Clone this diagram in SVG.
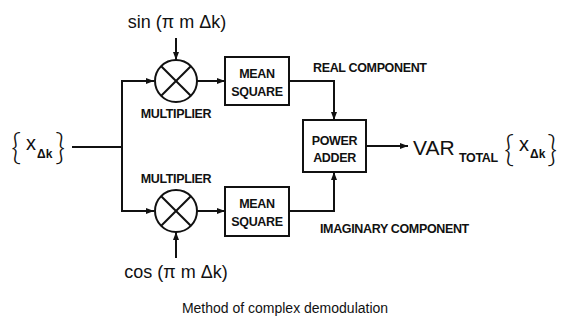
<svg xmlns="http://www.w3.org/2000/svg" width="566" height="323" viewBox="0 0 566 323">
<defs>
<marker id="ah" markerUnits="userSpaceOnUse" markerWidth="8" markerHeight="6" refX="8" refY="3" orient="auto">
<path d="M0,0 L8,3 L0,6 z" fill="#111"/>
</marker>
<style>
.ln{stroke:#111;stroke-width:2;fill:none}
.bx{stroke:#111;stroke-width:2;fill:#fff}
.lb{font-family:"Liberation Sans",Arial,sans-serif;font-weight:bold;font-size:12.5px;letter-spacing:-0.35px;fill:#111}
.mt{font-family:"Liberation Sans",Arial,sans-serif;fill:#111}
.br{font-family:Lato,"Liberation Sans",sans-serif;font-weight:300;font-size:35px;fill:#111}
.sb{font-family:"Liberation Sans",Arial,sans-serif;font-weight:bold;font-size:12px;fill:#111}
</style>
</defs>
<rect width="566" height="323" fill="#fff"/>
<g id="connectors">
<line class="ln" x1="72" y1="147" x2="122" y2="147"/>
<line class="ln" x1="122" y1="80" x2="122" y2="212"/>
<line class="ln" x1="121" y1="81" x2="154" y2="81" marker-end="url(#ah)"/>
<line class="ln" x1="121" y1="211" x2="154" y2="211" marker-end="url(#ah)"/>
<line class="ln" x1="176" y1="38" x2="176" y2="60" marker-end="url(#ah)"/>
<line class="ln" x1="176" y1="258" x2="176" y2="232" marker-end="url(#ah)"/>
<line class="ln" x1="197" y1="81" x2="225" y2="81" marker-end="url(#ah)"/>
<line class="ln" x1="197" y1="211" x2="225" y2="211" marker-end="url(#ah)"/>
<polyline class="ln" points="289,81 334,81 334,120" marker-end="url(#ah)"/>
<polyline class="ln" points="289,211 334,211 334,172" marker-end="url(#ah)"/>
<line class="ln" x1="366" y1="146" x2="408" y2="146" marker-end="url(#ah)"/>
</g>
<g id="input">
<text class="br" x="11" y="159">{</text>
<text class="mt" x="26" y="150" font-size="20">x</text>
<text class="sb" x="37" y="158">Δk</text>
<text class="br" x="55" y="159">}</text>
</g>
<g id="sin">
<text class="mt" x="177" y="28" font-size="18" text-anchor="middle">sin (π m Δk)</text>
</g>
<g id="cos">
<text class="mt" x="176" y="278" font-size="18" text-anchor="middle">cos (π m Δk)</text>
</g>
<g id="mult1">
<circle class="bx" cx="176" cy="81" r="21"/>
<line class="ln" x1="161.2" y1="66.2" x2="190.8" y2="95.8"/>
<line class="ln" x1="190.8" y1="66.2" x2="161.2" y2="95.8"/>
<text class="lb" x="176" y="118" text-anchor="middle">MULTIPLIER</text>
</g>
<g id="mult2">
<circle class="bx" cx="176" cy="211" r="21"/>
<line class="ln" x1="161.2" y1="196.2" x2="190.8" y2="225.8"/>
<line class="ln" x1="190.8" y1="196.2" x2="161.2" y2="225.8"/>
<text class="lb" x="176" y="183" text-anchor="middle">MULTIPLIER</text>
</g>
<g id="ms1">
<rect class="bx" x="225" y="57" width="64" height="48"/>
<text class="lb" x="257" y="78" text-anchor="middle">MEAN</text>
<text class="lb" x="257" y="96" text-anchor="middle">SQUARE</text>
</g>
<g id="ms2">
<rect class="bx" x="225" y="187" width="64" height="49"/>
<text class="lb" x="257" y="208" text-anchor="middle">MEAN</text>
<text class="lb" x="257" y="226" text-anchor="middle">SQUARE</text>
</g>
<g id="adder">
<rect class="bx" x="303" y="120" width="63" height="52"/>
<text class="lb" x="334.5" y="145" text-anchor="middle">POWER</text>
<text class="lb" x="334.5" y="162" text-anchor="middle">ADDER</text>
</g>
<g id="labels">
<text class="lb" x="313" y="72">REAL COMPONENT</text>
<text class="lb" x="320" y="233">IMAGINARY COMPONENT</text>
</g>
<g id="output">
<text class="mt" x="413" y="155" font-size="21">VAR</text>
<text class="lb" x="459" y="162">TOTAL</text>
<text class="br" x="504" y="161">{</text>
<text class="mt" x="519" y="151" font-size="20">x</text>
<text class="sb" x="530" y="158">Δk</text>
<text class="br" x="547" y="161">}</text>
</g>
<g id="caption">
<text class="mt" x="285" y="313" font-size="14" text-anchor="middle">Method of complex demodulation</text>
</g>
</svg>
